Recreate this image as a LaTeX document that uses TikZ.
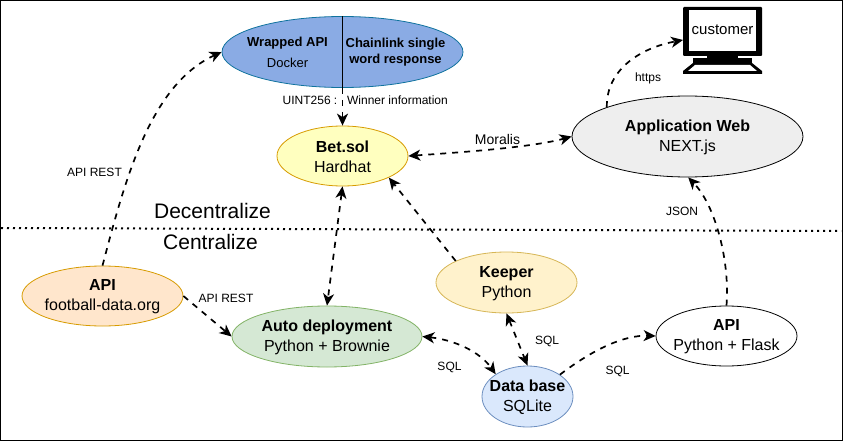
\documentclass[tikz,border=0pt]{standalone}
\usepackage{fontspec}
\setmainfont{Liberation Sans}
\usetikzlibrary{shapes.geometric}
\usetikzlibrary{arrows.meta}

\tikzset{
  every label/.style={align=center, inner sep=0pt, yshift=-1pt, font=\fontsize{16}{20}\selectfont},
  block/.style={ellipse, draw, line width=0.8pt, inner sep=0pt},
  link/.style={line width=1.7pt, dash pattern=on 6pt off 6pt, -{Stealth[length=12pt,width=11pt,inset=3.5pt]}},
  bothlink/.style={link, {Stealth[length=12pt,width=11pt,inset=3.5pt]}-{Stealth[length=12pt,width=11pt,inset=3.5pt]}},
  tag/.style={inner sep=1pt, font=\fontsize{12}{14}\selectfont},
  side/.style={inner sep=0pt, font=\fontsize{21}{24}\selectfont}
}
\definecolor{wrappedfill}{HTML}{8AABE4}
\definecolor{wrappedline}{HTML}{10739E}
\definecolor{betfill}{HTML}{FFFFBF}
\definecolor{betline}{HTML}{D79B00}
\definecolor{webfill}{HTML}{EEEEEE}
\definecolor{footfill}{HTML}{FFE6CC}
\definecolor{autofill}{HTML}{D5E8D4}
\definecolor{autoline}{HTML}{82B366}
\definecolor{keeperfill}{HTML}{FFF2CC}
\definecolor{keeperline}{HTML}{D6B656}
\definecolor{basefill}{HTML}{DAE8FC}
\definecolor{baseline}{HTML}{6C8EBF}

\begin{document}
\begin{tikzpicture}[x=1pt,y=-1pt]

% Frame
\useasboundingbox (0,0) rectangle (843,441);
\draw[line width=1pt] (0.5,0.5) rectangle (842.5,440.5);

% Border between both worlds
\coordinate (borderleft) at (1,228);
\coordinate (borderright) at (841,231);
\draw[line width=2pt, dash pattern=on 2pt off 4pt] (borderleft) -- (borderright);
\node[side] (decentral) at (212.5,211) {Decentralize};
\node[side] (central) at (210.5,242) {Centralize};

% Ellipses
\node[block, fill=wrappedfill, draw=wrappedline, minimum width=241pt, minimum height=71pt] (wrapped) at (342.5,52) {};
\node[block, fill=betfill, draw=betline, minimum width=131pt, minimum height=60pt,
  label={center:\textbf{Bet.sol}\\Hardhat}] (betsol) at (342.5,156) {};
\node[block, fill=webfill, draw=black, minimum width=231pt, minimum height=81pt,
  label={center:\textbf{Application Web}\\NEXT.js}] (appweb) at (687.5,136.5) {};
\node[block, fill=footfill, draw=betline, minimum width=161pt, minimum height=60pt,
  label={center:\textbf{API}\\football-data.org}] (football) at (102.5,296) {};
\node[block, fill=autofill, draw=autoline, minimum width=190pt, minimum height=61pt,
  label={center:\textbf{Auto deployment}\\Python + Brownie}] (deploy) at (327,336.5) {};
\node[block, fill=keeperfill, draw=keeperline, minimum width=141pt, minimum height=61pt,
  label={center:\textbf{Keeper}\\Python}] (keeper) at (506.5,282.5) {};
\node[block, fill=basefill, draw=baseline, minimum width=91pt, minimum height=61pt,
  label={center:\textbf{Data base}\\SQLite}] (database) at (527.5,396.5) {};
\node[block, fill=white, draw=black, minimum width=141pt, minimum height=60pt,
  label={center:\textbf{API}\\Python + Flask}] (flask) at (726.5,336) {};

% Inside of the wrapped API
\draw[line width=0.8pt] (wrapped.north) -- (wrapped.south);
\node[font=\fontsize{13}{16}\selectfont\bfseries] (wrappedname) at (287.5,43) {Wrapped API};
\node[font=\fontsize{13}{16}\selectfont] (docker) at (287.5,63) {Docker};
\node[font=\fontsize{13}{16}\selectfont\bfseries, align=center] (chainlink) at (395.5,52) {Chainlink single\\word response};

% Customer screen
\fill[black, rounded corners=1pt] (683,7) rectangle (762,56);
\fill[white] (689,10) rectangle (756,51);
\fill[black] (707,56) rectangle (738,59);
\fill[black] (693,58) rectangle (752,63);
\fill[black] (693,63) -- (752,63) -- (762,71) -- (762,74) -- (683,74) -- (683,71) -- cycle;
\fill[white] (695,65) -- (750,65) -- (757,71) -- (688,71) -- cycle;
\node[inner sep=0pt, font=\fontsize{15}{16}\selectfont] (customer) at (722.5,30) {customer};

% Connectors
\draw[link] (wrapped.south) -- (betsol.north);
\node[tag, fill=white] (uint) at (310,100.5) {UINT256 :};
\node[tag, fill=white] (winner) at (397.5,100.5) {Winner information};
\draw[link] (football.north) .. controls (125,180) and (150,85) .. (wrapped.west);
\draw[link] (appweb.160.7) .. controls (606,70) and (640,48) .. (683,40);
\draw[bothlink] (betsol.east) .. controls (450,153) and (530,148) .. (appweb.west);
\draw[bothlink] (betsol.south) -- (deploy.north);
\draw[link] (keeper.157.5) -- (betsol.-25);
\draw[link] (football.east) -- (deploy.west);
\draw[link] (flask.north) .. controls (730,260) and (715,205) .. (appweb.-89);
\draw[bothlink] (deploy.east) .. controls (455,340) and (480,352) .. (database.145);
\draw[bothlink] (keeper.south) -- (database.north);
\draw[link] (database.34.7) .. controls (595,348) and (625,335) .. (flask.west);

% Labels
\node[tag] (restone) at (94.5,172) {API REST};
\node[tag] (resttwo) at (226,298) {API REST};
\node[tag] (https) at (648,78) {https};
\node[tag] (json) at (682,211) {JSON};
\node[tag] (sqlkeeper) at (547,341) {SQL};
\node[tag] (sqldeploy) at (449.5,367) {SQL};
\node[tag] (sqlflask) at (617.5,371) {SQL};
\node[inner sep=0pt, font=\fontsize{14}{16}\selectfont] (moralis) at (497.5,139) {Moralis};

\end{tikzpicture}
\end{document}
